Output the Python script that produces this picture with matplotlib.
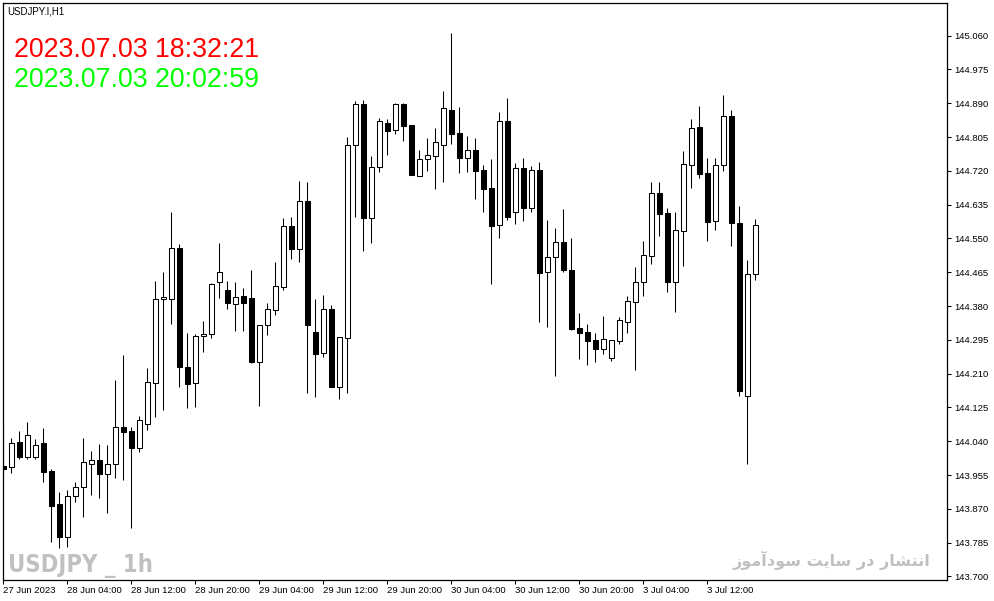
import numpy as np
import matplotlib
matplotlib.use('Agg')
import matplotlib.pyplot as plt

# hourly candles, USDJPY 27 Jun 20:00 -> 3 Jul 18:00
opens = [143.978, 143.975, 144.038, 144.000, 144.000, 144.036, 143.965, 143.882, 143.799, 143.902,
         143.925, 143.983, 143.993, 143.958, 143.983, 144.076, 144.066, 144.023, 144.083, 144.187,
         144.398, 144.398, 144.526, 144.227, 144.187, 144.305, 144.310, 144.441, 144.420, 144.385,
         144.405, 144.400, 144.239, 144.332, 144.370, 144.428, 144.581, 144.524, 144.644, 144.315,
         144.262, 144.373, 144.177, 144.300, 144.785, 144.888, 144.602, 144.730, 144.840, 144.823,
         144.888, 144.835, 144.707, 144.750, 144.757, 144.785, 144.873, 144.815, 144.752, 144.773,
         144.722, 144.677, 144.584, 144.845, 144.617, 144.727, 144.627, 144.722, 144.466, 144.503,
         144.541, 144.471, 144.325, 144.315, 144.295, 144.272, 144.249, 144.292, 144.340, 144.390,
         144.441, 144.506, 144.664, 144.614, 144.441, 144.569, 144.735, 144.830, 144.715, 144.594,
         144.735, 144.858, 144.589, 144.154, 144.461]
highs = [144.086, 144.048, 144.066, 144.088, 144.046, 144.073, 143.970, 143.912, 143.917, 143.938,
         144.048, 144.016, 144.033, 144.031, 144.194, 144.257, 144.076, 144.104, 144.224, 144.443,
         144.466, 144.617, 144.536, 144.312, 144.310, 144.342, 144.438, 144.539, 144.443, 144.441,
         144.425, 144.471, 144.332, 144.388, 144.491, 144.602, 144.604, 144.695, 144.692, 144.398,
         144.408, 144.383, 144.302, 144.805, 144.896, 144.898, 144.757, 144.853, 144.850, 144.891,
         144.891, 144.835, 144.773, 144.803, 144.828, 144.921, 145.067, 144.881, 144.808, 144.803,
         144.735, 144.750, 144.868, 144.903, 144.740, 144.752, 144.732, 144.742, 144.597, 144.576,
         144.624, 144.551, 144.363, 144.335, 144.312, 144.355, 144.295, 144.353, 144.405, 144.478,
         144.544, 144.692, 144.692, 144.627, 144.617, 144.770, 144.850, 144.883, 144.752, 144.752,
         144.911, 144.873, 144.632, 144.496, 144.599]
lows = [143.955, 143.960, 143.995, 143.995, 143.995, 143.938, 143.787, 143.772, 143.774, 143.887,
        143.850, 143.905, 143.897, 143.860, 143.948, 143.943, 143.822, 144.013, 144.068, 144.101,
        144.119, 144.335, 144.177, 144.124, 144.126, 144.265, 144.300, 144.400, 144.373, 144.317,
        144.317, 144.237, 144.129, 144.307, 144.358, 144.420, 144.498, 144.491, 144.161, 144.151,
        144.252, 144.177, 144.146, 144.161, 144.604, 144.519, 144.539, 144.717, 144.760, 144.813,
        144.795, 144.710, 144.707, 144.720, 144.674, 144.692, 144.788, 144.715, 144.717, 144.649,
        144.617, 144.436, 144.551, 144.597, 144.586, 144.594, 144.617, 144.340, 144.327, 144.204,
        144.466, 144.320, 144.247, 144.232, 144.239, 144.260, 144.242, 144.285, 144.312, 144.219,
        144.405, 144.486, 144.556, 144.415, 144.365, 144.481, 144.677, 144.702, 144.544, 144.571,
        144.720, 144.531, 144.154, 143.983, 144.446]
closes = [143.970, 144.036, 144.000, 144.056, 144.031, 143.963, 143.877, 143.799, 143.902, 143.925,
          143.988, 143.993, 143.958, 143.983, 144.076, 144.063, 144.023, 144.094, 144.189, 144.398,
          144.403, 144.526, 144.227, 144.184, 144.305, 144.310, 144.436, 144.466, 144.388, 144.403,
          144.388, 144.239, 144.332, 144.373, 144.431, 144.581, 144.524, 144.644, 144.332, 144.260,
          144.373, 144.177, 144.302, 144.785, 144.888, 144.602, 144.730, 144.845, 144.820, 144.888,
          144.833, 144.710, 144.750, 144.760, 144.793, 144.878, 144.813, 144.752, 144.773, 144.720,
          144.674, 144.581, 144.845, 144.604, 144.727, 144.627, 144.722, 144.463, 144.503, 144.541,
          144.471, 144.322, 144.312, 144.292, 144.272, 144.297, 144.295, 144.345, 144.393, 144.441,
          144.508, 144.664, 144.612, 144.441, 144.571, 144.737, 144.828, 144.712, 144.591, 144.735,
          144.858, 144.589, 144.166, 144.461, 144.584]

time_ticks = [0, 8, 16, 24, 32, 40, 48, 56, 64, 72, 80, 88]
time_labels = ['27 Jun 2023', '28 Jun 04:00', '28 Jun 12:00', '28 Jun 20:00', '29 Jun 04:00',
               '29 Jun 12:00', '29 Jun 20:00', '30 Jun 04:00', '30 Jun 12:00', '30 Jun 20:00',
               '3 Jul 04:00', '3 Jul 12:00']
price_ticks = [143.700, 143.785, 143.870, 143.955, 144.040, 144.125, 144.210, 144.295, 144.380,
               144.465, 144.550, 144.635, 144.720, 144.805, 144.890, 144.975, 145.060]

plt.rcParams['font.family'] = ['Liberation Sans', 'DejaVu Sans']

W, H = 994, 601
fig = plt.figure(figsize=(W / 100, H / 100), dpi=100, facecolor='white')
ax = fig.add_axes([3 / W, 1 - 580 / H, 944 / W, 577 / H])

o = np.array(opens)
c = np.array(closes)
x = np.arange(len(o))
bull = c > o

# wicks then bodies
ax.vlines(x, lows, highs, color='black', linewidth=0.75, zorder=2)
bottoms = np.minimum(o, c)
heights = np.maximum(np.abs(c - o), 0.0005)
ax.bar(x, heights, bottom=bottoms, width=0.6,
       color=np.where(bull, 'white', 'black'), edgecolor='black', linewidth=0.75, zorder=3)

ax.set_xlim(-0.04, 117.96)
ax.set_ylim(143.691, 145.142)

# price axis on the right
ax.yaxis.tick_right()
ax.set_yticks(price_ticks)
ax.set_yticklabels(['%.3f' % p for p in price_ticks])
ax.tick_params(axis='y', direction='out', length=3, width=0.75, pad=2, labelsize=6.8, colors='black')

ax.set_xticks(time_ticks)
ax.set_xticklabels(time_labels)
ax.tick_params(axis='x', direction='out', length=3, width=0.75, pad=1.5, labelsize=6.8)
for lab in ax.get_xticklabels():
    lab.set_ha('left')

for s in ax.spines.values():
    s.set_linewidth(0.9)
    s.set_color('black')

# texts
fig.text(7 / W, 1 - 15 / H, 'USDJPY.I,H1', fontsize=7, color='black', va='baseline')
fig.text(14 / W, 1 - 56.7 / H, '2023.07.03 18:32:21', fontsize=19.3, color='#ff0000', va='baseline')
fig.text(14 / W, 1 - 86.7 / H, '2023.07.03 20:02:59', fontsize=19.3, color='#00ff00', va='baseline')

fig.text(8 / W, 1 - 572.5 / H, 'USDJPY _ 1h', fontsize=17, fontweight='bold', fontstretch='condensed',
         color='#c0c0c0', va='baseline', family=['DejaVu Sans'])

# persian caption in visual order with presentation forms
fa_text = ('\uFEAF\uFEEE\uFEE3\uFE81\uFEA9\uFEEE\uFEB3 \uFE96\uFBFE\uFE8E\uFEB3 '
           '\uFEAD\uFEA9 \uFEAD\uFE8E\uFEB8\uFE98\uFEE7\uFE8D')
fig.text(930 / W, 1 - 566 / H, fa_text, fontsize=11.5, fontweight='bold', color='#c0c0c0',
         ha='right', va='baseline', family=['DejaVu Sans'])

fig.savefig('out.png', dpi=100, facecolor='white')
